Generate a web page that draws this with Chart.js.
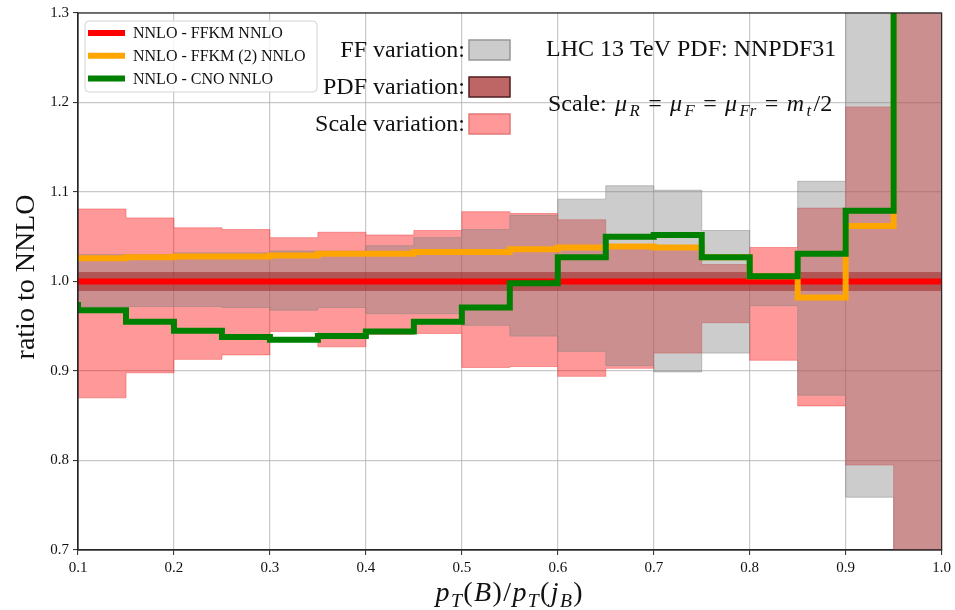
<!DOCTYPE html>
<html>
<head>
<meta charset="utf-8">
<title>ratio to NNLO</title>
<script src="https://cdn.jsdelivr.net/npm/chart.js@4.4.1/dist/chart.umd.min.js"></script>
<style>
  html, body { margin: 0; padding: 0; background: #fff; }
  #wrap { width: 955px; height: 610px; }
</style>
</head>
<body>
<div id="wrap"><canvas id="ratio" width="955" height="610"></canvas></div>
<script>
// bin edges of pT(B)/pT(jB)
const binEdges = [0.10, 0.15, 0.20, 0.25, 0.30, 0.35, 0.40, 0.45, 0.50, 0.55,
                  0.60, 0.65, 0.70, 0.75, 0.80, 0.85, 0.90, 0.95, 1.00];

// uncertainty bands, one value per bin
const scaleHi = [1.081, 1.071, 1.060, 1.058, 1.049, 1.055, 1.052, 1.057, 1.078, 1.076,
                 1.069, 1.038, 1.037, 1.019, 1.038, 1.082, 1.195, 1.450];
const scaleLo = [0.870, 0.898, 0.913, 0.918, 0.944, 0.927, 0.941, 0.942, 0.904, 0.905,
                 0.894, 0.903, 0.920, 0.954, 0.912, 0.861, 0.795, 0.550];
const ffHi = [1.030, 1.030, 1.032, 1.032, 1.034, 1.034, 1.040, 1.049, 1.058, 1.074,
              1.092, 1.107, 1.102, 1.057, 1.003, 1.112, 1.500, 1.500];
const ffLo = [0.972, 0.972, 0.972, 0.971, 0.968, 0.971, 0.964, 0.964, 0.951, 0.939,
              0.922, 0.906, 0.899, 0.920, 0.973, 0.873, 0.759, 0.500];
const pdfHi = [1.010, 1.010, 1.010, 1.010, 1.010, 1.010, 1.010, 1.010, 1.010, 1.010,
               1.010, 1.010, 1.010, 1.010, 1.009, 1.010, 1.010, 1.010];
const pdfLo = [0.990, 0.990, 0.990, 0.990, 0.990, 0.990, 0.990, 0.990, 0.990, 0.990,
               0.990, 0.990, 0.990, 0.990, 0.990, 0.990, 0.990, 0.990];

// ratio curves: value at the left edge, then one value per bin
const nnloFfkm  = [1.000, 1.000, 1.000, 1.000, 1.000, 1.000, 1.000, 1.000, 1.000, 1.000,
                   1.000, 1.000, 1.000, 1.000, 1.000, 1.000, 1.000, 1.000, 1.000];
const nnloFfkm2 = [1.026, 1.026, 1.027, 1.028, 1.028, 1.029, 1.031, 1.031, 1.033, 1.033,
                   1.036, 1.038, 1.039, 1.038, 1.027, 1.006, 0.982, 1.062, 1.400];
const nnloCno   = [0.977, 0.968, 0.955, 0.945, 0.938, 0.935, 0.939, 0.944, 0.955, 0.971,
                   0.998, 1.027, 1.050, 1.052, 1.027, 1.006, 1.031, 1.079, 1.450];

const xTickValues = [0.1, 0.2, 0.3, 0.4, 0.5, 0.6, 0.7, 0.8, 0.9, 1.0];
const yTickValues = [0.7, 0.8, 0.9, 1.0, 1.1, 1.2, 1.3];

const serif = '"Liberation Serif", "Times New Roman", serif';

// per-bin values -> points for a horizontal-first step path
function binPoints(vals) {
  const pts = vals.map((v, i) => ({ x: binEdges[i], y: v }));
  pts.push({ x: binEdges[vals.length], y: vals[vals.length - 1] });
  return pts;
}
// edge values -> points for a vertical-first step path
function edgePoints(vals) {
  return vals.map((v, i) => ({ x: binEdges[i], y: v }));
}

function bandEdge(vals, color, order, fill) {
  return {
    data: binPoints(vals),
    stepped: 'before',
    borderColor: color.edge,
    borderWidth: 1,
    backgroundColor: color.fill,
    fill: fill ? '-1' : false,
    pointRadius: 0,
    order: order
  };
}

function curve(label, vals, color, order) {
  return {
    label: label,
    data: edgePoints(vals),
    stepped: 'after',
    borderColor: color,
    borderWidth: 6,
    borderCapStyle: 'butt',
    borderJoinStyle: 'miter',
    pointRadius: 0,
    fill: false,
    clip: 0,
    order: order
  };
}

const scaleColor = { fill: 'rgba(255, 0, 0, 0.4)', edge: 'rgba(235, 60, 60, 0.45)' };
const ffColor = { fill: 'rgba(128, 128, 128, 0.4)', edge: 'rgba(128, 128, 128, 0.45)' };
const pdfColor = { fill: 'rgba(139, 0, 0, 0.4)', edge: 'rgba(139, 0, 0, 0.25)' };

// draw a run of roman / italic / subscript pieces
function drawRuns(ctx, runs, x, y, size, center, spread) {
  const gap = size * (spread || 0.05);
  const fontOf = r => (r.i ? 'italic ' : '') + (r.sub ? size * 0.7 : size) + 'px ' + serif;
  let total = 0;
  runs.forEach(r => { ctx.font = fontOf(r); total += ctx.measureText(r.t).width + gap; });
  let cx = center ? x - total / 2 : x;
  ctx.textAlign = 'left';
  ctx.textBaseline = 'alphabetic';
  runs.forEach(r => {
    ctx.font = fontOf(r);
    ctx.fillText(r.t, cx, r.sub ? y + size * 0.22 : y);
    cx += ctx.measureText(r.t).width + gap;
  });
}

const overlay = {
  id: 'overlay',
  afterDraw(chart) {
    const ctx = chart.ctx;
    const a = chart.chartArea;
    ctx.save();

    // axes frame
    ctx.strokeStyle = '#262626';
    ctx.lineWidth = 1.2;
    ctx.strokeRect(a.left, a.top, a.right - a.left, a.bottom - a.top);

    ctx.fillStyle = '#111';

    // y title
    ctx.save();
    ctx.translate(27, 277);
    ctx.rotate(-Math.PI / 2);
    ctx.font = '28px ' + serif;
    ctx.textAlign = 'center';
    ctx.textBaseline = 'middle';
    ctx.fillText('ratio to NNLO', 0, 0);
    ctx.restore();

    // x title
    drawRuns(ctx, [
      { t: 'p', i: true }, { t: 'T', i: true, sub: true }, { t: '(' }, { t: 'B', i: true }, { t: ')' },
      { t: '/' },
      { t: 'p', i: true }, { t: 'T', i: true, sub: true }, { t: '(' }, { t: 'j', i: true },
      { t: 'B', i: true, sub: true }, { t: ')' }
    ], (a.left + a.right) / 2, 601, 28, true);

    // band key
    const keys = [
      { label: 'FF variation:', fill: 'rgb(204, 204, 204)', edge: 'rgb(150, 150, 150)', y: 40 },
      { label: 'PDF variation:', fill: 'rgb(190, 102, 102)', edge: 'rgb(80, 30, 30)', y: 77 },
      { label: 'Scale variation:', fill: 'rgb(255, 153, 153)', edge: 'rgb(225, 120, 120)', y: 114 }
    ];
    ctx.font = '24px ' + serif;
    ctx.textAlign = 'right';
    ctx.textBaseline = 'alphabetic';
    keys.forEach(k => {
      ctx.fillStyle = '#111';
      ctx.fillText(k.label, 465, k.y + 17);
      ctx.fillStyle = k.fill;
      ctx.fillRect(469, k.y, 41, 20);
      ctx.strokeStyle = k.edge;
      ctx.lineWidth = 1.5;
      ctx.strokeRect(469, k.y, 41, 20);
    });

    ctx.fillStyle = '#111';
    ctx.textAlign = 'left';
    ctx.fillText('LHC 13 TeV PDF: NNPDF31', 546, 56);
    drawRuns(ctx, [
      { t: 'Scale: ' }, { t: 'μ', i: true }, { t: 'R', i: true, sub: true }, { t: ' = ' },
      { t: 'μ', i: true }, { t: 'F', i: true, sub: true }, { t: ' = ' },
      { t: 'μ', i: true }, { t: 'Fr', i: true, sub: true }, { t: ' = ' },
      { t: 'm', i: true }, { t: 't', i: true, sub: true }, { t: '/2' }
    ], 548, 111, 24, false, 0.1);

    // line legend
    const bx = 85, by = 21, bw = 232, bh = 71;
    ctx.fillStyle = 'rgba(255, 255, 255, 0.85)';
    ctx.strokeStyle = '#d4d4d4';
    ctx.lineWidth = 1;
    ctx.beginPath();
    ctx.roundRect(bx, by, bw, bh, 4);
    ctx.fill();
    ctx.stroke();
    const curves = chart.data.datasets.filter(d => d.label);
    ctx.font = '16px ' + serif;
    ctx.textBaseline = 'middle';
    curves.forEach((d, i) => {
      const ly = 33 + i * 22.7;
      ctx.strokeStyle = d.borderColor;
      ctx.lineWidth = 6;
      ctx.beginPath();
      ctx.moveTo(88, ly);
      ctx.lineTo(125, ly);
      ctx.stroke();
      ctx.fillStyle = '#111';
      ctx.fillText(d.label, 133, ly + 1);
    });

    ctx.restore();
  }
};

new Chart(document.getElementById('ratio'), {
  type: 'line',
  data: {
    datasets: [
      bandEdge(scaleLo, scaleColor, 5, false),
      bandEdge(scaleHi, scaleColor, 5, true),
      bandEdge(ffLo, ffColor, 4, false),
      bandEdge(ffHi, ffColor, 4, true),
      bandEdge(pdfLo, pdfColor, 3, false),
      bandEdge(pdfHi, pdfColor, 3, true),
      curve('NNLO - FFKM NNLO', nnloFfkm, '#ff0000', 2),
      curve('NNLO - FFKM (2) NNLO', nnloFfkm2, '#ffa500', 1),
      curve('NNLO - CNO NNLO', nnloCno, '#008000', 0)
    ]
  },
  options: {
    responsive: false,
    animation: false,
    layout: { padding: { top: 13, right: 13, left: 0, bottom: 0 } },
    plugins: {
      legend: { display: false },
      tooltip: { enabled: false }
    },
    scales: {
      x: {
        type: 'linear',
        min: 0.1,
        max: 1.0,
        afterBuildTicks: s => { s.ticks = xTickValues.map(v => ({ value: v })); },
        afterFit: s => { s.height = 60; },
        ticks: {
          callback: v => Number(v).toFixed(1),
          font: { family: serif, size: 15 },
          color: '#111',
          padding: 4,
          maxRotation: 0,
          autoSkip: false
        },
        grid: { color: 'rgba(170, 170, 170, 0.65)', lineWidth: 1.2, tickLength: 5, tickColor: '#262626', tickWidth: 1 },
        border: { color: '#262626', width: 1.2 }
      },
      y: {
        type: 'linear',
        min: 0.7,
        max: 1.3,
        afterBuildTicks: s => { s.ticks = yTickValues.map(v => ({ value: v })); },
        afterFit: s => { s.width = 78; },
        ticks: {
          callback: v => Number(v).toFixed(1),
          font: { family: serif, size: 15 },
          color: '#111',
          padding: 4
        },
        grid: { color: 'rgba(170, 170, 170, 0.65)', lineWidth: 1.2, tickLength: 5, tickColor: '#262626', tickWidth: 1 },
        border: { color: '#262626', width: 1.2 }
      }
    }
  },
  plugins: [overlay]
});
</script>
</body>
</html>
